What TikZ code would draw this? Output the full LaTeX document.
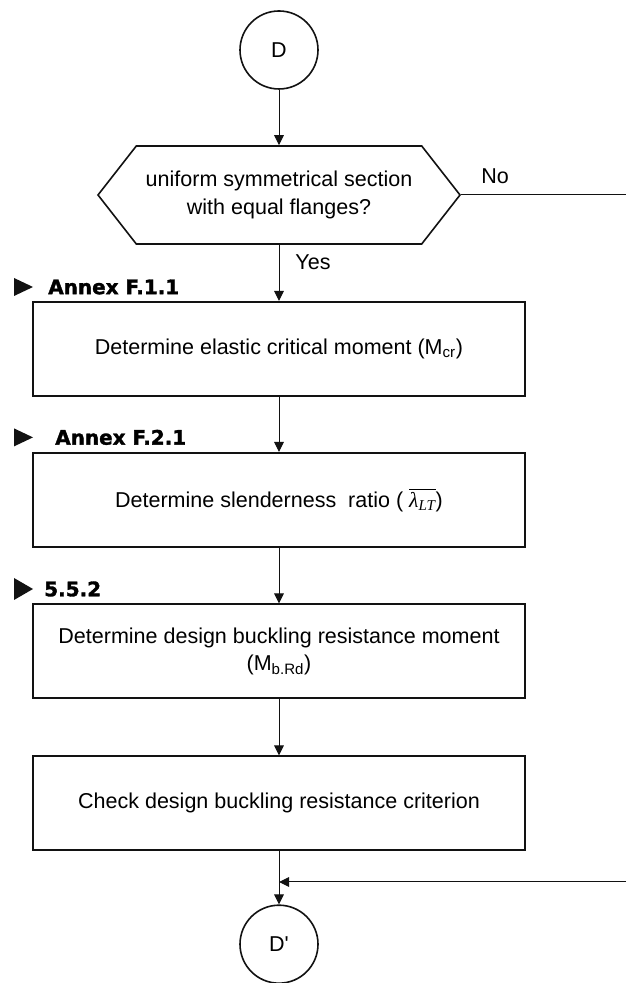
\documentclass[tikz,border=0pt]{standalone}
\usepackage{fontspec}
\usepackage{amsmath}
\usepackage{tikz}
\usepackage{xcolor}
\usetikzlibrary{shapes.symbols,arrows.meta}
\setmainfont{Liberation Sans}
\newfontfamily\annexfont{DejaVu Sans}[BoldFeatures={FakeBold=1.6}]
\newfontfamily\lambdafont{Liberation Serif}

\begin{document}
\begin{tikzpicture}[
		flowtext/.style={font={\fontsize{15.3}{19.6}\selectfont}, align=center},
		flowbox/.style={flowtext, draw={ALMOST_BLACK}, line width={0.5mm}, minimum width={12.30cm}, minimum height={2.35cm}, inner sep={0cm}},
		connector/.style={draw={ALMOST_BLACK}, circle, line width={0.4mm}, minimum size={1.95cm}, inner sep={0cm}, flowtext},
		flowline/.style={line width={0.25mm}, color={ALMOST_BLACK}},
		flowlink/.style={flowline, -{Triangle[length={0.25cm}, width={0.24cm}]}},
		annex/.style={anchor=west, inner sep={0cm}, font={\annexfont\bfseries\fontsize{14.2}{16}\selectfont}}
	]
				\definecolor{ALMOST_BLACK}{RGB}{18, 18, 18}
				\definecolor{ALMOST_WHITE}{RGB}{255, 255, 255}
				\useasboundingbox[fill={ALMOST_WHITE}] (0.00cm, 0.00cm) rectangle (15.65cm, 24.575cm);
				
				\node[connector] (startD) at (6.975cm, 23.325cm) {D};
				
				\node[signal, signal to=west and east, signal pointer angle=104, draw={ALMOST_BLACK}, line width={0.4mm}, minimum width={9.05cm}, minimum height={2.45cm}, inner sep={0cm}, flowtext] (sectionQuery) at (6.975cm, 19.70cm) {uniform symmetrical section\\with equal flanges?};
				\node[flowtext, inner sep={0cm}] (noLabel) at (12.375cm, 20.175cm) {No};
				\node[flowtext, inner sep={0cm}] (yesLabel) at (7.825cm, 18.025cm) {Yes};
				\coordinate (noExit) at (15.65cm, 19.70cm);
				
				\node[flowbox] (criticalMoment) at (6.975cm, 15.85cm) {Determine elastic critical moment (M\textsubscript{cr})};
				\node[flowbox] (slendernessRatio) at (6.975cm, 12.075cm) {Determine slenderness\ \ ratio ( $\overline{\hbox{\lambdafont\itshape λ\textsubscript{LT}}}$)};
				\node[flowbox] (bucklingMoment) at (6.975cm, 8.29cm) {Determine design buckling resistance moment\\(M\textsubscript{b.Rd})};
				\node[flowbox] (bucklingCheck) at (6.975cm, 4.49cm) {Check design buckling resistance criterion};
				
				\node[connector] (endD) at (6.975cm, 0.97cm) {D\textquotesingle};
				\coordinate (noReturn) at (15.65cm, 2.525cm);
				
				\fill[color={ALMOST_BLACK}] (0.35cm, 17.625cm) -- (0.825cm, 17.40cm) -- (0.35cm, 17.175cm) -- cycle;
				\node[annex] (annexF11) at (1.20cm, 17.40cm) {Annex F.1.1};
				\fill[color={ALMOST_BLACK}] (0.35cm, 13.865cm) -- (0.825cm, 13.64cm) -- (0.35cm, 13.415cm) -- cycle;
				\node[annex] (annexF21) at (1.375cm, 13.64cm) {Annex F.2.1};
				\fill[color={ALMOST_BLACK}] (0.35cm, 10.125cm) -- (0.825cm, 9.85cm) -- (0.35cm, 9.575cm) -- cycle;
				\node[annex] (clause552) at (1.10cm, 9.85cm) {5.5.2};
				
				\draw[flowlink] (startD.south) -- (sectionQuery.north);
				\draw[flowlink] (sectionQuery.south) -- (criticalMoment.north);
				\draw[flowline] (sectionQuery.east) -- (noExit);
				\draw[flowlink] (criticalMoment.south) -- (slendernessRatio.north);
				\draw[flowlink] (slendernessRatio.south) -- (bucklingMoment.north);
				\draw[flowlink] (bucklingMoment.south) -- (bucklingCheck.north);
				\draw[flowlink] (bucklingCheck.south) -- (endD.north);
				\draw[flowlink] (noReturn) -- (noReturn -| endD.north);
				
			\end{tikzpicture}
\end{document}
